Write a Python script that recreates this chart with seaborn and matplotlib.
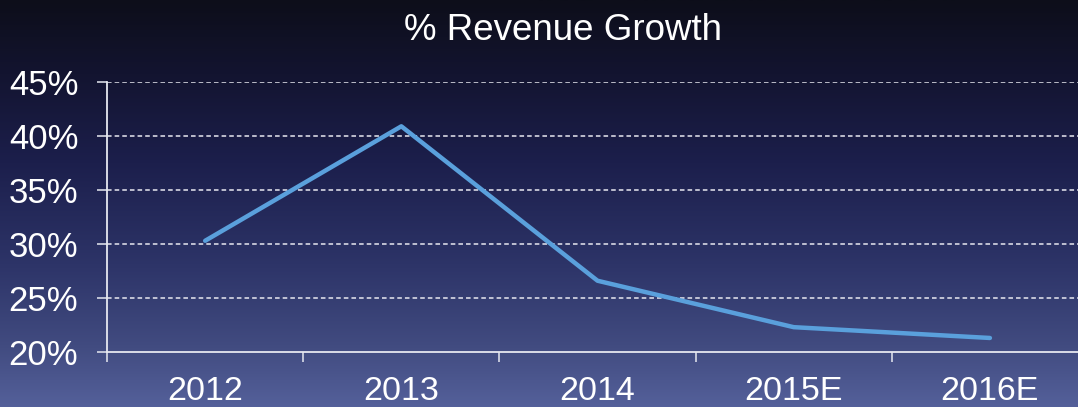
import numpy as np
import pandas as pd
import matplotlib
matplotlib.use("Agg")
import matplotlib.pyplot as plt
from matplotlib.colors import LinearSegmentedColormap
from matplotlib.ticker import FixedLocator, FuncFormatter
import seaborn as sns

# Revenue growth by year (percent)
years = ["2012", "2013", "2014", "2015E", "2016E"]
growth_pct = [30.3, 40.9, 26.6, 22.3, 21.3]
y_ticks = [20, 25, 30, 35, 40, 45]

sns.set_style("dark")
plt.rcParams["font.family"] = ["Liberation Sans", "DejaVu Sans"]

df = pd.DataFrame({"year": years, "growth": growth_pct})

fig = plt.figure(figsize=(10.78, 4.07), dpi=100)

# Navy vertical gradient backdrop
bg = fig.add_axes([0, 0, 1, 1], zorder=0)
bg_cmap = LinearSegmentedColormap.from_list(
    "navy",
    [(0.0, "#0d0e1a"), (0.18, "#131430"), (0.4, "#1c1f4c"),
     (0.65, "#2d3468"), (0.85, "#414b80"), (1.0, "#54609a")],
)
grad = np.linspace(0, 1, 256).reshape(-1, 1)
bg.imshow(grad, aspect="auto", cmap=bg_cmap, extent=[0, 1, 0, 1], origin="upper")
bg.set_axis_off()

ax = fig.add_axes([0.0993, 0.1351, 0.910, 0.6634], zorder=1)
ax.set_facecolor("none")

sns.lineplot(data=df, x="year", y="growth", ax=ax, color="#5aa0dc",
             linewidth=3.2, sort=False)

ax.set_xlim(-0.5, 4.5)
ax.set_ylim(20, 45)
ax.set_xlabel("")
ax.set_ylabel("")

ax.yaxis.set_major_locator(FixedLocator(y_ticks))
ax.yaxis.set_major_formatter(FuncFormatter(lambda v, _: f"{v:.0f}%"))
ax.tick_params(axis="y", which="major", length=7.2, width=1.1, color="#e6e8f0",
               labelsize=25, labelcolor="white", pad=13.5, left=True)

# Category boundaries carry the x tick marks; labels sit at centres
ax.xaxis.set_minor_locator(FixedLocator(np.arange(-0.5, 5.0, 1.0)))
ax.tick_params(axis="x", which="major", length=0, labelsize=24.5,
               labelcolor="white", pad=17)
ax.tick_params(axis="x", which="minor", length=7.2, width=1.1,
               color="#e6e8f0", bottom=True, direction="out")

ax.grid(False)
for v in y_ticks[1:]:
    ax.axhline(v, color="#e8e8f0", linewidth=1.1, linestyle=(0, (3, 2)),
               zorder=0.5)

for side in ["top", "right"]:
    ax.spines[side].set_visible(False)
for side in ["left", "bottom"]:
    ax.spines[side].set_visible(True)
    ax.spines[side].set_color("#e6e8f0")
    ax.spines[side].set_linewidth(1.3)

fig.text(0.522, 1 - 31 / 407, "% Revenue Growth", color="white",
         fontsize=26.5, ha="center", va="center")

fig.savefig("out.png", dpi=100)
